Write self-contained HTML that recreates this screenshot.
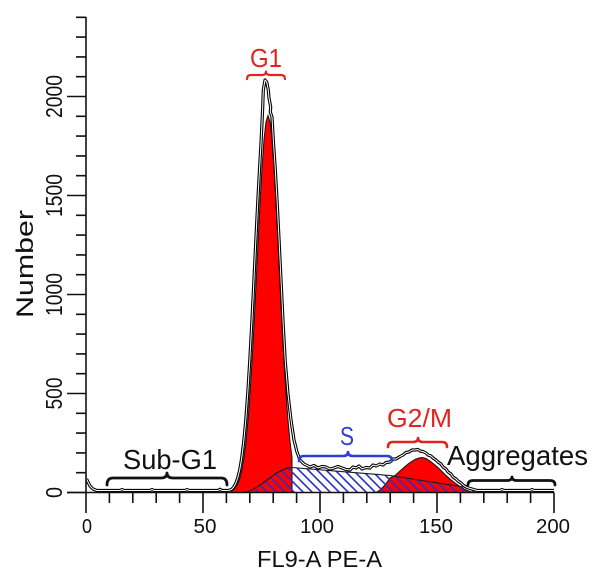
<!DOCTYPE html>
<html>
<head>
<meta charset="utf-8">
<style>
  html, body { margin: 0; padding: 0; background: #ffffff; }
  svg { display: block; }
  text { font-family: "Liberation Sans", "DejaVu Sans", sans-serif; }
</style>
</head>
<body>
<svg width="606" height="577" viewBox="0 0 606 577" xmlns="http://www.w3.org/2000/svg" xmlns:xlink="http://www.w3.org/1999/xlink">
  <defs>
    <pattern id="hatch" width="9" height="9" patternUnits="userSpaceOnUse">
      <path d="M-1,-1 L10,10 M-1,8 L1,10 M8,-1 L10,1" stroke="#2a2ec8" stroke-width="1.6" fill="none"/>
    </pattern>
    <path id="dataLine" fill="none"
      d="M86.5,479 L88,482 L90,486 L93,489 L97,490.5 L120,490.5 L122,489.5 L124,490.5 L150,490.5 L152,489.5 L154,490.5 L185,490.5 L187,489.5 L189,490.5 L218,490.5 L220,489.3 L222,490.5 L228,490.5 L231.5,489.5 L233.7,487 L235.7,483.5 L237.7,478 L239.7,470 L241.7,458 L243.7,442 L245.7,421 L247.7,394 L249.7,362 L251.7,325 L253.7,285 L255.7,243 L257.7,203 L259.6,168 L260.9,145 L261.8,127 L262.7,107 L263.3,90 L265,80 L266.7,82 L268.3,90 L269,98 L270.7,107 L270.3,112 L272,117 L273.3,140 L275.2,168 L277.2,203 L279.2,243 L281.2,284 L283.2,325 L285.3,362 L288,394 L291,420 L294,440 L297,452 L300,460 L304,464 L310,467 L314,465.5 L318,468 L322,466.5 L326,467 L330,469 L334,468 L338,466.5 L342,468 L346,469.5 L350,470 L353,467 L356,468 L359,466 L362,469 L366,467.5 L370,468 L373,465 L376,466 L380,464 L383,465 L386,462.5 L390,462 L393,459 L396,459 L400,456.5 L403,455 L406,452.5 L409,452 L412,450 L415,450 L418,449.5 L420,451 L423,451.5 L426,453 L428,455 L431,456 L433,458 L436,460 L438,462 L441,464 L443,467 L446,469 L448,472 L451,474 L453,477 L456,479 L458,481 L461,483 L463,485 L467,487.5 L472,489 L477,490.5 L500,490.5 L502,489.5 L504,490.5 L530,490.5 L532,489.5 L534,490.5 L554,490.5"/>
  </defs>
  <rect x="0" y="0" width="606" height="577" fill="#ffffff"/>

  <!-- G1 red peak -->
  <polygon fill="#ff0000" stroke="#111" stroke-width="1"
    points="231,492.5 232,490.7 234,489.3 236,487.0 238,483.3 240,477.7 242,469.4 244,457.6 246,441.5 248,420.3 250,393.7 252,361.6 254,324.8 256,284.5 258,243.1 260,203.1 262,167.6 264,139.6 266,121.7 268,115.5 270,121.7 272,139.6 274,167.6 276,203.1 278,243.1 280,284.5 282,324.8 284,361.6 286,393.7 288,420.3 290,441.5 292,457.6 292,492.5"/>

  <!-- G2/M red peak -->
  <polygon fill="#ff0000" stroke="#111" stroke-width="1"
    points="376,492.5 380,490 385,485 390,478 395,475.5 400,471 405,466.5 410,462.5 415,459.5 419,458 422,457.5 426,458.5 430,461 435,465 440,469.5 445,474.5 450,479 455,483 460,486.5 465,489.5 470,491.5 474,492.5"/>

  <!-- S phase hatched region -->
  <polygon fill="url(#hatch)" stroke="none"
    points="242,492.5 247,491.8 252,489.9 257,487.1 262,483.7 267,480 272,476.3 277,472.9 282,470.1 287,468.2 292,467.5 340,471.4 390,475.5 467,487.5 480,492.5"/>
  <polyline fill="none" stroke="#1a1a1a" stroke-width="1.1"
    points="242,492.5 247,491.8 252,489.9 257,487.1 262,483.7 267,480 272,476.3 277,472.9 282,470.1 287,468.2 292,467.5 340,471.4 390,475.5 467,487.5 480,492.5"/>

  <!-- data histogram outline (double line) -->
  <g fill="none" stroke-linejoin="round">
    <use href="#dataLine" xlink:href="#dataLine" stroke="#000" stroke-width="3.2"/>
    <use href="#dataLine" xlink:href="#dataLine" stroke="#fff" stroke-width="1.0"/>
  </g>

  <!-- axes -->
  <g stroke="#111" stroke-width="1.6" fill="none">
    <path d="M86,17 L86,513"/>
    <path d="M67,492.5 L554,492.5"/>
    <path d="M67,492.5 H86 M76,472.7 H86 M76,452.9 H86 M76,433.1 H86 M76,413.3 H86 M67,393.5 H86 M76,373.7 H86 M76,353.9 H86 M76,334.1 H86 M76,314.3 H86 M67,294.5 H86 M76,274.7 H86 M76,254.9 H86 M76,235.1 H86 M76,215.3 H86 M67,195.5 H86 M76,175.7 H86 M76,155.9 H86 M76,136.1 H86 M76,116.3 H86 M67,96.5 H86 M76,76.7 H86 M76,56.9 H86 M76,37.1 H86 M76,17.3 H86"/>
    <path d="M109.4,492.5 V503 M132.8,492.5 V503 M156.2,492.5 V503 M179.6,492.5 V503 M203,492.5 V513 M226.4,492.5 V503 M249.8,492.5 V503 M273.2,492.5 V503 M296.6,492.5 V503 M320,492.5 V513 M343.4,492.5 V503 M366.8,492.5 V503 M390.2,492.5 V503 M413.6,492.5 V503 M437,492.5 V513 M460.4,492.5 V503 M483.8,492.5 V503 M507.2,492.5 V503 M530.6,492.5 V503 M554,492.5 V513"/>
  </g>

  <!-- y tick labels -->
  <g font-size="23" fill="#111" text-anchor="middle">
    <text transform="translate(62,492.5) rotate(-90)" textLength="11" lengthAdjust="spacingAndGlyphs">0</text>
    <text transform="translate(62,393.5) rotate(-90)" textLength="32" lengthAdjust="spacingAndGlyphs">500</text>
    <text transform="translate(62,294.5) rotate(-90)" textLength="43" lengthAdjust="spacingAndGlyphs">1000</text>
    <text transform="translate(62,195.5) rotate(-90)" textLength="43" lengthAdjust="spacingAndGlyphs">1500</text>
    <text transform="translate(62,96.5) rotate(-90)" textLength="43" lengthAdjust="spacingAndGlyphs">2000</text>
  </g>

  <!-- x tick labels -->
  <g font-size="20.5" fill="#111" text-anchor="middle">
    <text x="87" y="533" textLength="10" lengthAdjust="spacingAndGlyphs">0</text>
    <text x="205" y="533" textLength="23" lengthAdjust="spacingAndGlyphs">50</text>
    <text x="317" y="533" textLength="34" lengthAdjust="spacingAndGlyphs">100</text>
    <text x="436" y="533" textLength="34" lengthAdjust="spacingAndGlyphs">150</text>
    <text x="553" y="533" textLength="34" lengthAdjust="spacingAndGlyphs">200</text>
  </g>

  <!-- axis titles -->
  <text transform="translate(33,264) rotate(-90)" font-size="24.5" fill="#111" text-anchor="middle" textLength="108" lengthAdjust="spacingAndGlyphs">Number</text>
  <text x="257" y="567" font-size="23.2" fill="#111" textLength="125" lengthAdjust="spacingAndGlyphs">FL9-A PE-A</text>

  <!-- braces -->
  <g fill="none" stroke-width="2.8" stroke-linecap="round" stroke-linejoin="round">
    <path stroke="#e0251f" stroke-width="2.2" d="M247,79 Q247,75 251,75 L262,75 Q266,75 266,71.5 Q266,75 270,75 L281,75 Q285,75 285,79"/>
    <path stroke="#2b3fd2" stroke-width="2.6" d="M299,461 Q299,456 304,456 L343,456 Q348,456 348,452 Q348,456 353,456 L387,456 Q392,456 392,461"/>
    <path stroke="#e0251f" stroke-width="2.6" d="M388,447 Q388,442 393,442 L413,442 Q418,442 418,438 Q418,442 423,442 L442,442 Q447,442 447,447"/>
    <path stroke="#111" d="M107,485 Q107,478 113,478 L161,478 Q167,478 167,473 Q167,478 173,478 L221,478 Q227,478 227,485"/>
    <path stroke="#111" d="M468,485 Q468,480.5 473,480.5 L507,480.5 Q512,480.5 512,477 Q512,480.5 517,480.5 L550,480.5 Q555,480.5 555,485"/>
  </g>

  <!-- phase labels -->
  <text x="250" y="67" font-size="26" fill="#e0251f" textLength="32" lengthAdjust="spacingAndGlyphs">G1</text>
  <text x="340" y="445" font-size="26" fill="#2b3fd2" textLength="14" lengthAdjust="spacingAndGlyphs">S</text>
  <text x="387" y="427" font-size="26" fill="#e0251f" textLength="65" lengthAdjust="spacingAndGlyphs">G2/M</text>
  <text x="447" y="465" font-size="27.3" fill="#111" textLength="141" lengthAdjust="spacingAndGlyphs">Aggregates</text>
  <text x="123" y="469" font-size="27.3" fill="#111" textLength="94" lengthAdjust="spacingAndGlyphs">Sub-G1</text>
</svg>
</body>
</html>
